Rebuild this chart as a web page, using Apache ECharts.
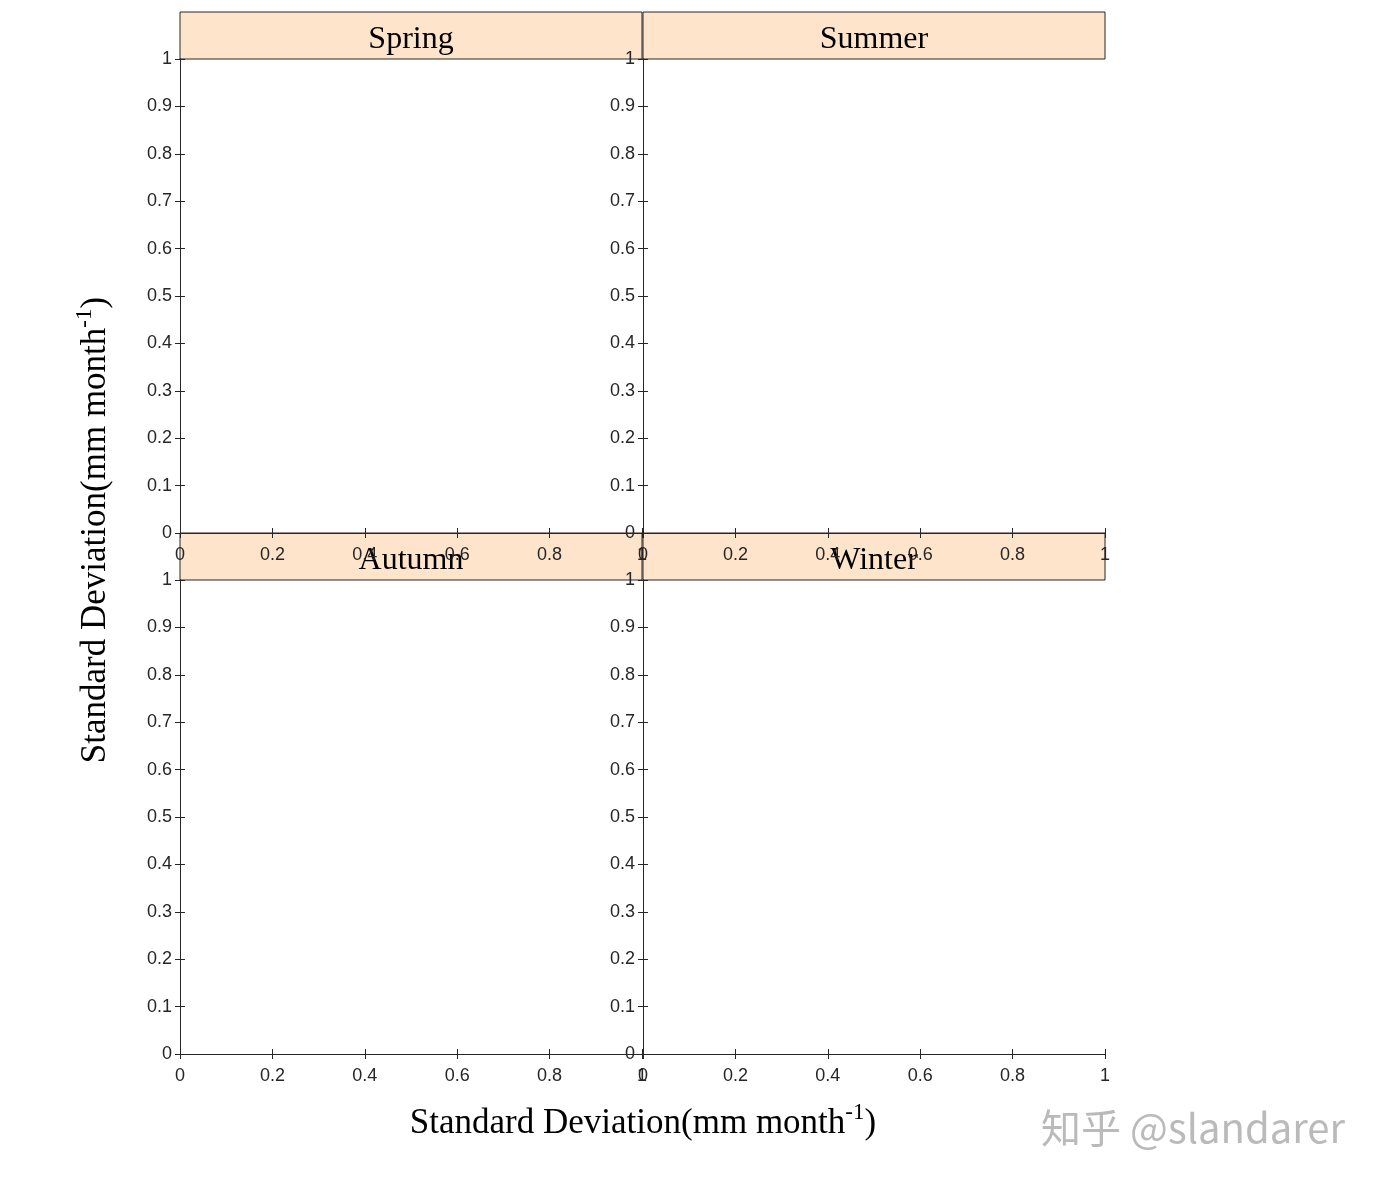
<!DOCTYPE html>
<html><head><meta charset="utf-8">
<script src="https://cdn.jsdelivr.net/npm/echarts@6/dist/echarts.min.js"></script>
<style>html,body{margin:0;padding:0;background:#fff}#c{width:1382px;height:1184px}</style>
</head><body><div id="c"></div>
<script>
const panelTitles = ['Spring','Summer','Autumn','Winter'];
const xTicks = [0,0.2,0.4,0.6,0.8,1];
const yTicks = [0,0.1,0.2,0.3,0.4,0.5,0.6,0.7,0.8,0.9,1];
const xName = 'Standard Deviation(mm month';
const yName = 'Standard Deviation(mm month';

const chart = echarts.init(document.getElementById('c'));
const lefts = [180, 643], tops = [59, 580], W = 462, H = 474, strip = 47;
const grids = [], xAxes = [], yAxes = [], series = [], graphics = [];
const lab = {color:'#262626', fontFamily:'Liberation Sans', fontSize:18};
panelTitles.forEach((t, i) => {
  const l = lefts[i % 2], tp = tops[Math.floor(i / 2)];
  grids.push({left:l, top:tp, width:W, height:H, show:false});
  const axLine = {show:true, lineStyle:{color:'#262626', width:1}};
  const tick = {show:true, inside:true, length:5, lineStyle:{color:'#262626'}};
  xAxes.push({gridIndex:i, type:'value', min:0, max:1, interval:0.2, position:'bottom', z:5,
    axisLine:axLine, axisTick:tick, splitLine:{show:false},
    axisLabel:Object.assign({margin:13, formatter:v=>String(+v.toFixed(1))}, lab)});
  xAxes.push({gridIndex:i, type:'value', min:0, max:1, interval:0.2, position:'top', z:5,
    axisLine:axLine, axisTick:tick, splitLine:{show:false}, axisLabel:{show:false}});
  yAxes.push({gridIndex:i, type:'value', min:0, max:1, interval:0.1, position:'left', z:5,
    axisLine:axLine, axisTick:tick, splitLine:{show:false},
    axisLabel:Object.assign({margin:8, formatter:v=>String(+v.toFixed(1))}, lab)});
  yAxes.push({gridIndex:i, type:'value', min:0, max:1, interval:0.1, position:'right', z:5,
    axisLine:axLine, axisTick:tick, splitLine:{show:false}, axisLabel:{show:false}});
  series.push({type:'line', xAxisIndex:2*i, yAxisIndex:2*i, data:[]});
  graphics.push({type:'rect', shape:{x:l, y:tp-strip, width:W, height:strip},
    style:{fill:'#ffe4cc', stroke:'#262626', lineWidth:1}, z:0});
  graphics.push({type:'text', x:l+W/2, y:tp-strip/2+4, z:1,
    style:{text:t, fill:'#000', font:'32px "Liberation Serif"', align:'center', verticalAlign:'middle'}});
});
graphics.push({type:'text', x:643, y:1124, z:11, style:{
  text:'{a|'+xName+'}{s|-1}{a|)}', align:'center', verticalAlign:'middle',
  rich:{a:{fontFamily:'Liberation Serif', fontSize:35, color:'#000'},
        s:{fontFamily:'Liberation Serif', fontSize:23, color:'#000', padding:[0,0,22,0]}}}});
graphics.push({type:'text', x:96, y:530, rotation:Math.PI/2, z:11, style:{
  text:'{a|'+yName+'}{s|-1}{a|)}', align:'center', verticalAlign:'middle',
  rich:{a:{fontFamily:'Liberation Serif', fontSize:35, color:'#000'},
        s:{fontFamily:'Liberation Serif', fontSize:23, color:'#000', padding:[0,0,22,0]}}}});
graphics.push({type:'text', x:1345, y:1128, z:11, style:{
  text:'知乎 @slandarer', align:'right', verticalAlign:'middle',
  font:'40px "Noto Sans CJK SC"', fill:'rgba(140,140,140,0.6)'}});
chart.setOption({animation:false, grid:grids, xAxis:xAxes, yAxis:yAxes, series, graphic:graphics});
</script></body></html>
